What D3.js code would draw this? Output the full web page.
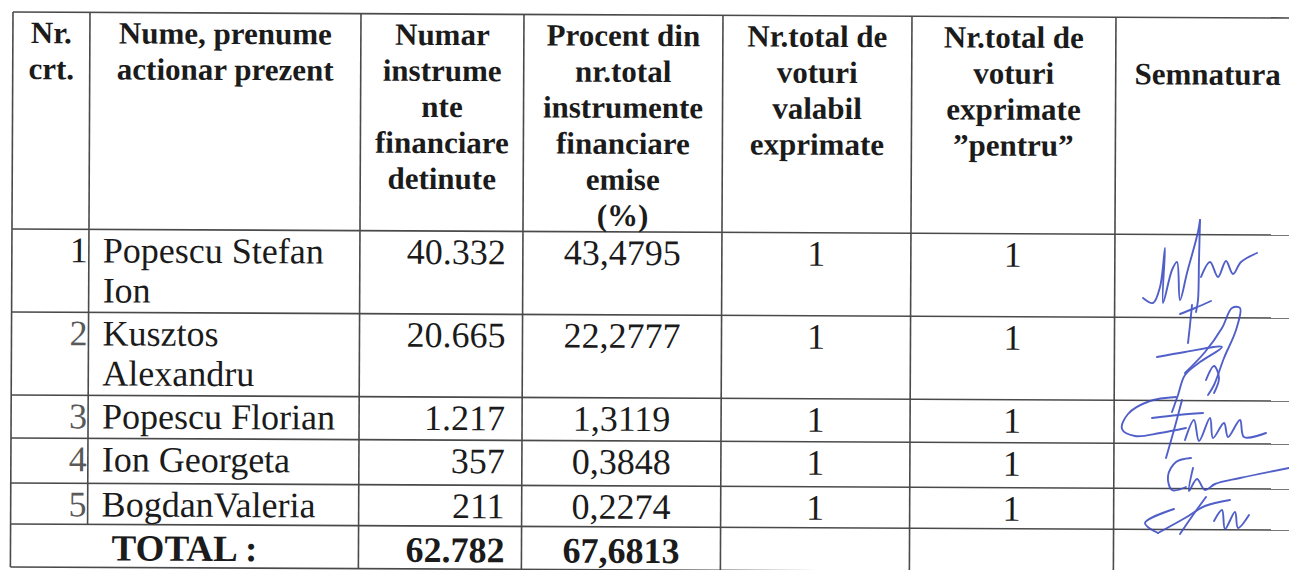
<!DOCTYPE html>
<html><head><meta charset="utf-8">
<script src="https://cdn.jsdelivr.net/npm/d3@7"></script>
<style>html,body{margin:0;padding:0;background:#fff;}svg{display:block;}</style>
</head><body>
<svg id="chart" width="1289" height="570"></svg>
<script>
// ---------------- data ----------------
const headers = [
  ["Nr.", "crt."],
  ["Nume, prenume", "actionar prezent"],
  ["Numar", "instrume", "nte", "financiare", "detinute"],
  ["Procent din", "nr.total", "instrumente", "financiare", "emise", "(%)"],
  ["Nr.total de", "voturi", "valabil", "exprimate"],
  ["Nr.total de", "voturi", "exprimate", "”pentru”"],
  ["", "Semnatura"]
];
const nrCrt = [1, 2, 3, 4, 5];
const names = ["Popescu Stefan Ion", "Kusztos Alexandru", "Popescu Florian", "Ion Georgeta", "BogdanValeria"];
const instrumente = [40332, 20665, 1217, 357, 211];
const procente = [43.4795, 22.2777, 1.3119, 0.3848, 0.2274];
const voturiValabile = [1, 1, 1, 1, 1];
const voturiPentru = [1, 1, 1, 1, 1];
const totalLabel = "TOTAL :";
const totalInstrumente = 62782;
const totalProcent = 67.6813;

// ---------------- layout ----------------
const W = 1289, H = 570;
const colKeys = ["nr", "nume", "instr", "proc", "valabil", "pentru", "semn"];
const colEdges = [0, 77, 348, 511, 710, 899, 1103, 1287];
const rowKeys = ["header", 0, 1, 2, 3, 4, "total"];
const rowEdges = [0, 217, 300, 383, 426, 471, 512, 555];

const colX = d3.scaleOrdinal().domain(colKeys).range(colEdges.slice(0, -1));
const colR = d3.scaleOrdinal().domain(colKeys).range(colEdges.slice(1));
const rowY = d3.scaleOrdinal().domain(rowKeys).range(rowEdges.slice(0, -1));

const loc = d3.formatLocale({decimal: ",", thousands: ".", grouping: [3], currency: ["", ""]});
const fmtInt = loc.format(",d");
const fmtPct = loc.format(",.4f");

const ink = "#1b1b1b";
const lineCol = "#4a4a4a";
const FONT = '"Liberation Serif", "Times New Roman", serif';
const hSize = 31, bSize = 36;

const svg = d3.select("#chart");
svg.append("rect").attr("width", W).attr("height", H).attr("fill", "#fff");

const g = svg.append("g").attr("transform", "translate(13,12) rotate(0.27)");

// grid lines
const grid = g.append("g").attr("stroke", lineCol).attr("stroke-width", 1.6).attr("fill", "none");
grid.selectAll("line.h").data(rowEdges).join("line").attr("class", "h")
  .attr("x1", 0).attr("x2", colEdges[colEdges.length - 1] + 40)
  .attr("y1", d => d).attr("y2", d => d);
const vLines = colEdges.slice(0, -1).map((x, i) => ({x, y2: i === 1 ? rowEdges[6] : rowEdges[7]}));
grid.selectAll("line.v").data(vLines).join("line").attr("class", "v")
  .attr("x1", d => d.x).attr("x2", d => d.x).attr("y1", 0).attr("y2", d => d.y2);

// header text
const hg = g.append("g").style("font-family", FONT).style("font-weight", "bold")
  .style("font-size", hSize + "px").attr("fill", ink).attr("text-anchor", "middle");
headers.forEach((lines, ci) => {
  const k = colKeys[ci];
  const cx = (colX(k) + colR(k)) / 2;
  hg.selectAll(null).data(lines).join("text")
    .attr("x", cx).attr("y", (d, i) => 31 + i * 36).text(d => d);
});

// body
const bg = g.append("g").style("font-family", FONT).style("font-size", bSize + "px").attr("fill", ink);

bg.selectAll("text.nr").data(nrCrt).join("text").attr("class", "nr")
  .attr("x", colR("nr") - 1).attr("y", (d, i) => rowY(i) + 33)
  .attr("text-anchor", "end").attr("fill", (d, i) => i === 0 ? ink : "#5a5a5a").text(d => d);

const maxW = colR("nume") - colX("nume") - 24;
names.forEach((name, i) => {
  const t = bg.append("text").attr("x", colX("nume") + 14).attr("y", rowY(i) + 33);
  const words = name.split(" ");
  let line = [];
  let ts = t.append("tspan").attr("x", colX("nume") + 14).attr("dy", 0);
  words.forEach(w => {
    line.push(w);
    ts.text(line.join(" "));
    if (ts.node().getComputedTextLength() > maxW && line.length > 1) {
      line.pop();
      ts.text(line.join(" "));
      line = [w];
      ts = t.append("tspan").attr("x", colX("nume") + 14).attr("dy", 40).text(w);
    }
  });
});

bg.selectAll("text.instr").data(instrumente).join("text").attr("class", "instr")
  .attr("x", colR("instr") - 17).attr("y", (d, i) => rowY(i) + 33)
  .attr("text-anchor", "end").text(d => fmtInt(d));

bg.selectAll("text.proc").data(procente).join("text").attr("class", "proc")
  .attr("x", (colX("proc") + colR("proc")) / 2).attr("y", (d, i) => rowY(i) + 33)
  .attr("text-anchor", "middle").text(d => fmtPct(d));

bg.selectAll("text.val").data(voturiValabile).join("text").attr("class", "val")
  .attr("x", (colX("valabil") + colR("valabil")) / 2).attr("y", (d, i) => rowY(i) + 33)
  .attr("text-anchor", "middle").text(d => d);

bg.selectAll("text.pen").data(voturiPentru).join("text").attr("class", "pen")
  .attr("x", (colX("pentru") + colR("pentru")) / 2).attr("y", (d, i) => rowY(i) + 33)
  .attr("text-anchor", "middle").text(d => d);

// total row
const tg = g.append("g").style("font-family", FONT).style("font-weight", "bold")
  .style("font-size", bSize + "px").attr("fill", ink);
tg.append("text").attr("x", (colX("nr") + colR("nume")) / 2).attr("y", rowY("total") + 36)
  .attr("text-anchor", "middle").style("font-size", "37px").text(totalLabel);
tg.append("text").attr("x", colR("instr") - 17).attr("y", rowY("total") + 36)
  .attr("text-anchor", "end").text(fmtInt(totalInstrumente));
tg.append("text").attr("x", (colX("proc") + colR("proc")) / 2).attr("y", rowY("total") + 36)
  .attr("text-anchor", "middle").text(fmtPct(totalProcent));

// ---------------- signatures (decorative handwriting) ----------------
const signatureStrokes = [
  [[1143,298],[1153,303],[1160,287],[1165,248],[1163,303],[1172,270],[1177,262],[1180,300],[1187,273],[1198,232],[1200,220]],
  [[1200,220],[1199,260],[1198,300],[1196,312]],
  [[1201,277],[1210,262],[1218,277],[1226,261],[1233,274],[1241,262],[1257,253]],
  [[1180,314],[1195,308],[1211,301]],
  [[1192,305],[1190,325],[1188,343]],
  [[1157,357],[1185,352],[1222,347],[1200,362],[1185,375],[1178,395],[1172,412]],
  [[1185,373],[1205,352],[1222,328],[1232,308],[1240,308],[1236,330],[1224,358],[1214,385],[1208,395]],
  [[1206,380],[1214,366],[1219,378],[1214,393]],
  [[1176,397],[1150,401],[1128,414],[1122,429],[1135,436],[1160,433],[1186,428]],
  [[1152,418],[1178,415],[1203,413]],
  [[1182,400],[1174,430],[1166,458]],
  [[1185,440],[1194,420],[1199,441],[1210,418],[1213,438],[1224,423],[1228,437],[1240,420],[1244,437],[1266,433]],
  [[1191,458],[1176,462],[1168,476],[1172,490],[1186,487]],
  [[1193,468],[1189,491],[1197,479],[1205,490],[1215,484],[1240,478],[1289,468]],
  [[1174,509],[1145,523],[1158,533]],
  [[1158,533],[1185,518],[1205,506],[1230,500]],
  [[1206,497],[1193,515],[1180,534]],
  [[1214,521],[1222,510],[1225,529],[1235,512],[1238,528],[1249,515]]
];
const pen = d3.line().curve(d3.curveCatmullRom.alpha(0.5));
svg.append("g").attr("fill", "none").attr("stroke", "#3f4fc4").attr("stroke-width", 1.9)
  .attr("stroke-linecap", "round").attr("stroke-linejoin", "round").attr("opacity", 0.9)
  .selectAll("path").data(signatureStrokes).join("path").attr("d", d => pen(d));
</script>
</body></html>
